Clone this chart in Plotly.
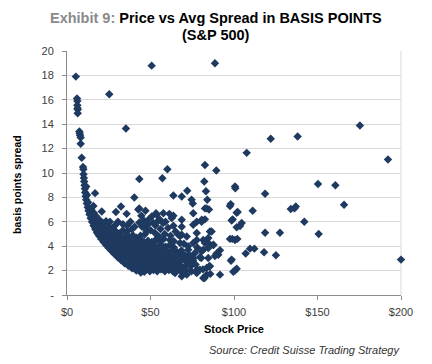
import plotly.graph_objects as go

# ---- data ----
# tall column of cheap stocks
price_col = [5.3, 6.0, 6.2, 6.2, 6.3, 6.4, 6.4, 7.4, 7.6, 7.8, 8.2, 8.2, 8.8, 9.6, 9.8]
spread_col = [17.9, 16.1, 15.9, 15.55, 15.3, 15.2, 14.9, 13.4, 13.25, 13.1, 12.9, 12.4, 11.25, 10.5, 10.3]

# leading edge of the dense curve
price_edge = [9.9, 10.1, 10.3, 10.5, 10.7, 10.9, 11.2, 11.5, 11.9, 12.4, 12.9, 13.5, 14.2, 15.0, 15.9, 16.9,
              18.0, 19.2, 20.5, 21.9, 23.4, 25.0, 26.7, 28.5, 30.4, 32.4, 34.5, 36.7, 39.0, 41.5, 44.2]
spread_edge = [9.9, 9.6, 9.3, 9.0, 8.7, 8.4, 8.1, 7.8, 7.5, 7.2, 6.9, 6.6, 6.3, 6.0, 5.7, 5.4,
               5.1, 4.85, 4.6, 4.35, 4.1, 3.85, 3.6, 3.35, 3.1, 2.85, 2.6, 2.4, 2.2, 2.0, 1.85]

price_edge2 = [11.5, 12.0, 12.6, 13.2, 13.9, 14.7, 15.6, 16.6, 17.7, 18.9, 20.2, 21.6, 23.1, 24.7, 26.4, 28.2,
               30.1, 32.1, 34.2, 36.4, 38.7, 41.1, 43.6, 46.3]
spread_edge2 = [8.9, 8.2, 7.6, 7.1, 6.7, 6.3, 5.95, 5.6, 5.3, 5.0, 4.75, 4.5, 4.25, 4.0, 3.75, 3.5,
                3.25, 3.0, 2.8, 2.55, 2.35, 2.15, 2.0, 1.9]

# body of the dense cluster
price_core = [
    14.5, 16.0, 17.5, 15.8,
    16.5, 18.2, 19.8, 21.5, 23.4,
    17.6, 19.3, 21.0, 22.8, 24.6, 26.5, 28.7,
    19.5, 21.3, 23.2, 25.1, 27.0, 29.0, 31.2, 33.5, 36.0,
    21.4, 23.3, 25.2, 27.1, 29.0, 31.0, 33.0, 35.0, 37.2, 39.4, 41.6, 44.0, 46.5,
    23.6, 25.5, 27.4, 29.3, 31.2, 33.1, 35.0, 36.9, 38.8, 40.7, 42.6, 44.5, 46.4, 48.5, 50.8, 53.0, 55.5,
    26.0, 27.9, 29.8, 31.7, 33.6, 35.5, 37.4, 39.3, 41.2, 43.1, 45.0, 46.9, 48.8, 50.7, 52.6, 54.6, 56.8, 59.0, 61.5, 64.0,
    28.6, 30.5, 32.4, 34.3, 36.2, 38.1, 40.0, 41.9, 43.8, 45.7, 47.6, 49.5, 51.4, 53.3, 55.2, 57.1, 59.0, 61.2, 63.5, 66.0, 68.5,
    31.3, 33.2, 35.1, 37.0, 38.9, 40.8, 42.7, 44.6, 46.5, 48.4, 50.3, 52.2, 54.1, 56.0, 57.9, 59.8, 61.7, 63.8, 66.0, 68.3, 70.7, 73.2,
    34.4, 36.3, 38.2, 40.1, 42.0, 43.9, 45.8, 47.7, 49.6, 51.5, 53.4, 55.3, 57.2, 59.1, 61.0, 63.2, 65.5, 67.8, 70.2, 72.8, 75.5,
    38.0, 39.9, 41.8, 43.7, 45.6, 47.5, 49.4, 51.3, 53.2, 55.1, 57.0, 59.2, 61.5, 63.8, 66.2, 68.7, 71.3, 74.0, 77.0,
    43.0, 45.2, 47.4, 49.6, 51.8, 54.0, 56.3, 58.6, 61.0, 63.4, 66.0, 68.5, 71.0, 74.5, 78.0,
]
spread_core = [
    7.0, 6.75, 6.45, 7.3,
    6.1, 5.95, 6.1, 5.9, 6.05,
    5.65, 5.5, 5.7, 5.55, 5.6, 5.45, 5.7,
    5.2, 5.25, 5.1, 5.3, 5.15, 5.25, 5.05, 5.3, 5.2,
    4.85, 4.75, 4.9, 4.7, 4.85, 4.8, 4.65, 4.85, 4.75, 4.9, 4.7, 4.85, 4.95,
    4.45, 4.35, 4.5, 4.4, 4.3, 4.45, 4.35, 4.5, 4.3, 4.45, 4.35, 4.5, 4.3, 4.45, 4.35, 4.5, 4.4,
    4.05, 3.95, 4.1, 3.9, 4.05, 3.95, 4.1, 3.9, 4.05, 3.95, 4.1, 3.9, 4.05, 3.95, 4.1, 3.9, 4.05, 3.95, 4.1, 3.9,
    3.65, 3.55, 3.7, 3.5, 3.65, 3.55, 3.7, 3.5, 3.65, 3.55, 3.7, 3.5, 3.65, 3.55, 3.7, 3.5, 3.65, 3.55, 3.7, 3.5, 3.65,
    3.25, 3.15, 3.3, 3.1, 3.25, 3.15, 3.3, 3.1, 3.25, 3.15, 3.3, 3.1, 3.25, 3.15, 3.3, 3.1, 3.25, 3.15, 3.3, 3.1, 3.25, 3.15,
    2.85, 2.75, 2.9, 2.7, 2.85, 2.75, 2.9, 2.7, 2.85, 2.75, 2.9, 2.7, 2.85, 2.75, 2.9, 2.7, 2.85, 2.75, 2.9, 2.7, 2.85,
    2.45, 2.35, 2.5, 2.3, 2.45, 2.35, 2.5, 2.3, 2.45, 2.35, 2.5, 2.3, 2.45, 2.35, 2.5, 2.3, 2.45, 2.35, 2.5,
    2.1, 2.0, 2.1, 1.95, 2.05, 1.95, 2.1, 1.95, 2.05, 1.95, 2.1, 1.9, 2.05, 1.95, 2.1,
]

# scattered points around the cluster ($15 - $105)
price_mid = [
    43.3, 57.1, 60.1, 43.3, 43.3, 29.3, 32.3, 35.7, 40.3, 20.8, 16.8, 25.7, 42.7,
    63.7, 68.7, 72.0, 74.6, 82.6, 82.2, 83.2, 89.4,
    53.3, 57.7, 61.3, 63.7, 62.7, 51.7, 54.7, 68.7, 75.6, 75.3, 82.6, 80.7, 63.7, 68.7, 77.7, 47.7, 52.7,
    68.7, 67.7, 75.6, 83.6, 80.6, 75.6, 84.6, 59.7, 65.7, 71.7, 79.6, 83.6, 71.7, 63.7, 81.6,
    75.6, 77.7, 66.7, 71.7, 77.7, 76.6, 81.6, 64.7, 70.7, 77.7, 68.7,
    46.7, 50.7, 53.7, 55.7, 61.7, 67.7, 81.6, 84.6, 87.6, 72.6, 79.6, 89.6, 91.6, 69.6, 85.6, 91.6, 83.6,
    85.6, 86.6, 84.6, 82.6, 87.7, 84.6, 90.6, 88.6, 80.4, 85.2, 81.4, 85.8, 82.4, 82.6, 80.6, 84.0, 83.6, 85.0,
    98.0, 98.6, 101.6, 97.6, 100.6, 98.6,
    45.0, 48.5, 50.0, 56.0, 58.5, 60.5, 49.0, 59.0, 44.5, 47.0, 38.0, 40.5, 36.0, 55.0, 58.0, 62.0, 65.0,
    64.0, 70.0, 72.5, 69.0, 73.0, 78.0, 66.5, 74.0, 57.5, 53.0, 46.0, 39.0, 33.5, 30.5,
]
spread_mid = [
    9.5, 9.57, 10.3, 7.1, 5.95, 6.8, 7.25, 6.65, 8.0, 6.84, 8.35, 6.0, 7.0,
    8.15, 8.07, 8.55, 7.8, 10.65, 9.3, 8.5, 10.2,
    6.7, 6.7, 6.65, 6.5, 6.3, 5.9, 6.1, 6.16, 6.7, 7.5, 7.1, 6.16, 5.67, 5.6, 5.08, 5.2, 5.08,
    4.94, 4.26, 4.26, 4.4, 3.58, 3.03, 3.03, 2.9, 2.49, 2.76, 2.08, 2.22, 1.67, 1.94, 1.4,
    5.75, 6.0, 4.94, 4.8, 4.5, 3.44, 3.7, 1.8, 2.08, 1.8, 1.53,
    5.5, 6.43, 6.57, 6.16, 4.5, 4.86, 4.5, 4.26, 4.12, 3.7, 3.1, 3.4, 3.66, 2.08, 2.35, 1.67, 1.67,
    5.2, 5.2, 4.67, 4.26, 4.1, 3.85, 3.3, 3.2, 3.04, 2.35, 2.1, 1.73, 1.4, 6.2, 6.0, 7.8, 7.1, 7.0,
    7.45, 6.1, 6.75, 4.6, 4.5, 2.9,
    5.6, 5.8, 5.3, 5.4, 5.0, 5.5, 6.2, 6.0, 6.5, 6.9, 6.0, 5.6, 5.7, 4.8, 4.6, 4.85, 5.2,
    4.4, 4.2, 4.0, 3.4, 3.3, 3.9, 3.0, 2.6, 5.9, 5.7, 6.1, 5.4, 5.8, 6.0,
]

# outliers and the sparse right tail
price_tail = [25.3, 35.3, 50.7, 88.6, 175.4, 122.0, 138.1, 107.6, 192.2, 100.6, 100.8, 150.3, 160.7,
              118.6, 165.9, 97.6, 102.2, 111.2, 134.0, 137.0, 136.2, 142.1, 99.2, 101.6, 104.6, 103.6,
              118.6, 127.5, 150.7, 99.0, 102.0, 107.0, 109.6, 112.2, 118.0, 125.1, 200.0, 98.2, 100.6,
              101.6, 99.6]
spread_tail = [16.45, 13.65, 18.8, 19.0, 13.9, 12.8, 13.0, 11.65, 11.1, 8.9, 8.75, 9.1, 9.0,
               8.3, 7.4, 7.3, 6.8, 6.9, 7.05, 7.25, 7.1, 6.0, 6.2, 5.55, 5.9, 5.65,
               5.1, 5.1, 5.0, 4.6, 4.6, 3.4, 3.8, 3.8, 3.5, 3.25, 2.9, 2.8, 2.0,
               2.15, 1.9]

y_ticks = [0, 2, 4, 6, 8, 10, 12, 14, 16, 18, 20]
y_labels = ["-", "2", "4", "6", "8", "10", "12", "14", "16", "18", "20"]
x_ticks = [0, 50, 100, 150, 200]
x_labels = ["$0", "$50", "$100", "$150", "$200"]

price = price_col + price_edge + price_edge2 + price_core + price_mid + price_tail
spread = spread_col + spread_edge + spread_edge2 + spread_core + spread_mid + spread_tail

# ---- figure ----
FONT = "Liberation Sans, Arial, sans-serif"
fig = go.Figure()
fig.add_trace(go.Scatter(
    x=price, y=spread, mode="markers",
    marker=dict(symbol="diamond", size=6.5, color="#1f3a60", line=dict(width=0)),
    cliponaxis=False, showlegend=False,
))

tick_font = dict(family=FONT, size=11, color="#404040")

fig.update_layout(
    width=432, height=364,
    margin=dict(l=67, r=31, t=50.5, b=68.5),
    paper_bgcolor="white", plot_bgcolor="white",
    xaxis=dict(
        range=[0, 200], tickvals=x_ticks, ticktext=x_labels,
        showgrid=False, zeroline=False, showline=True, linecolor="#8c8c8c", linewidth=1,
        ticks="outside", ticklen=4, tickcolor="#8c8c8c", tickfont=tick_font,
        ticklabelstandoff=3,
    ),
    yaxis=dict(
        range=[0, 20], tickvals=y_ticks, ticktext=y_labels,
        showgrid=True, gridcolor="#d9d9d9", gridwidth=1,
        zeroline=False, showline=True, linecolor="#8c8c8c", linewidth=1,
        ticks="outside", ticklen=4, tickcolor="#8c8c8c", tickfont=tick_font,
        ticklabelstandoff=6,
    ),
    shapes=[dict(type="line", xref="paper", yref="paper", x0=1, x1=1, y0=0, y1=1,
                 line=dict(color="#d9d9d9", width=1), layer="below")],
    annotations=[
        dict(text="<span style='color:#8a8a8a'>Exhibit 9:</span> Price vs Avg Spread in BASIS POINTS",
             xref="paper", yref="paper", x=0.446, y=1.137, showarrow=False,
             xanchor="center", yanchor="middle",
             font=dict(family=FONT, size=14.5, color="#000000", weight="bold")),
        dict(text="(S&P 500)",
             xref="paper", yref="paper", x=0.446, y=1.067, showarrow=False,
             xanchor="center", yanchor="middle",
             font=dict(family=FONT, size=14.5, color="#000000", weight="bold")),
        dict(text="<b>basis points spread</b>", xref="paper", yref="paper",
             x=-0.1497, y=0.451, showarrow=False, textangle=-90,
             xanchor="center", yanchor="middle",
             font=dict(family=FONT, size=10.5, color="#000000")),
        dict(text="<b>Stock Price</b>", xref="paper", yref="paper",
             x=0.5, y=-0.138, showarrow=False, xanchor="center", yanchor="middle",
             font=dict(family=FONT, size=11, color="#000000")),
        dict(text="<i>Source: Credit Suisse Trading Strategy</i>", xref="paper", yref="paper",
             x=0.419, y=-0.224, showarrow=False, xanchor="left", yanchor="middle",
             font=dict(family=FONT, size=11, color="#333333")),
    ],
)

fig.write_html("out.html", config={"displayModeBar": False},
               post_script="document.body.style.margin='0';document.body.style.padding='0';")
